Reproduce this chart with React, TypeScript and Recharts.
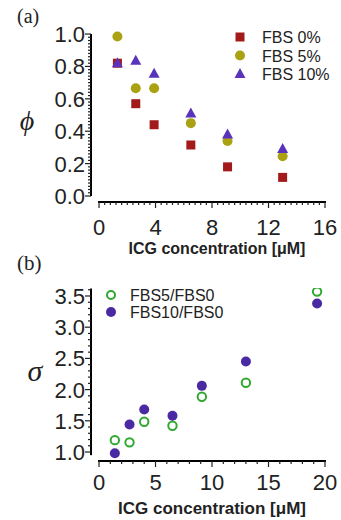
import React from "react";
import { ScatterChart, Scatter, XAxis, YAxis, Label } from "recharts";

// panel (a): phi vs ICG concentration
const concA = [1.3, 2.6, 3.9, 6.5, 9.1, 13.0];
const phiFbs0 = [0.82, 0.57, 0.44, 0.315, 0.18, 0.115];
const phiFbs5 = [0.985, 0.665, 0.665, 0.45, 0.34, 0.245];
const phiFbs10 = [0.82, 0.835, 0.755, 0.51, 0.38, 0.29];

// panel (b): sigma vs ICG concentration
const concB = [1.4, 2.7, 4.0, 6.5, 9.1, 13.0, 19.3];
const sigma5 = [1.19, 1.155, 1.485, 1.42, 1.886, 2.11, 3.57];
const sigma10 = [0.98, 1.44, 1.68, 1.58, 2.06, 2.45, 3.38];

const majorAX = [0, 4, 8, 12, 16];
const majorAY = [0, 0.2, 0.4, 0.6, 0.8, 1.0];
const majorBX = [0, 5, 10, 15, 20];
const majorBY = [1.0, 1.5, 2.0, 2.5, 3.0, 3.5];

const domAX: [number, number] = [-0.57, 16];
const domAY: [number, number] = [-0.037, 1.025];
const domBX: [number, number] = [-0.71, 20];
const domBY: [number, number] = [0.856, 3.628];

const RED = "#a31a1a";
const OLIVE = "#aaa212";
const PURPLE = "#5a33bb";
const GREEN = "#2fa82f";
const DEEP_PURPLE = "#4a2aa2";
const INK = "#222";
const SANS = "'Liberation Sans', Arial, sans-serif";
const SERIF = "'Liberation Serif', 'DejaVu Serif', serif";

// layout shared by the charts and the axis overlay
const W = 341;
const M_LEFT = 31;
const M_RIGHT = 16;
const Y_W = 60;
const X_H = 50;
const A_TOP = 0, A_H = 262, A_MT = 30, A_MB = 10;
const B_TOP = 250, B_H = 270, B_MT = 38, B_MB = 9;

const minor = (from: number, to: number, step: number) => {
  const out: number[] = [];
  const n = Math.round((to - from) / step);
  for (let i = 0; i <= n; i++) out.push(Math.round((from + i * step) * 1000) / 1000);
  return out;
};

const isMajor = (v: number, majors: number[]) => majors.some((m) => Math.abs(m - v) < 1e-6);

const ticksAX = minor(0, 16, 0.4);
const ticksAY = minor(0, 1, 0.02);
const ticksBX = minor(0, 20, 1);
const ticksBY = minor(1, 3.6, 0.1);

const xTick = (majors: number[], labelDy: number) => (props: any) => {
  const { x, y, payload } = props;
  if (!isMajor(payload.value, majors)) return <g />;
  return (
    <text x={x} y={y + labelDy} textAnchor="middle" fontSize={22} fontFamily={SANS} fill={INK}>
      {payload.value}
    </text>
  );
};

const yTick = (majors: number[]) => (props: any) => {
  const { x, y, payload } = props;
  if (!isMajor(payload.value, majors)) return <g />;
  return (
    <text x={x - 6} y={y + 8} textAnchor="end" fontSize={22} fontFamily={SANS} fill={INK}>
      {payload.value.toFixed(1)}
    </text>
  );
};

const textAt = (text: string, dx: number, dy: number, style: any) => (props: any) => {
  const vb = props.viewBox;
  return (
    <text x={vb.x + dx} y={vb.y + dy} fill={INK} {...style}>
      {text}
    </text>
  );
};

const titleStyle = { fontFamily: SANS, fontWeight: "bold", textAnchor: "middle" };
const greekStyle = { fontFamily: SERIF, fontStyle: "italic", textAnchor: "middle" };

const legendA = [
  { name: "FBS 0%", icon: (x: number, y: number) => <rect x={x - 4.5} y={y - 4.5} width={9} height={9} fill={RED} /> },
  { name: "FBS 5%", icon: (x: number, y: number) => <circle cx={x} cy={y} r={5} fill={OLIVE} /> },
  {
    name: "FBS 10%",
    icon: (x: number, y: number) => <polygon points={`${x},${y - 6} ${x + 5.5},${y + 4} ${x - 5.5},${y + 4}`} fill={PURPLE} />,
  },
];
const legendB = [
  { name: "FBS5/FBS0", icon: (x: number, y: number) => <circle cx={x} cy={y} r={4} fill="none" stroke={GREEN} strokeWidth={2} /> },
  { name: "FBS10/FBS0", icon: (x: number, y: number) => <circle cx={x} cy={y} r={5} fill={DEEP_PURPLE} /> },
];

const legendAt = (items: any[], dx: number, dy: number, rowH: number, textDx: number) => (props: any) => {
  const vb = props.viewBox;
  const x0 = vb.x + dx;
  return (
    <g>
      {items.map((it, i) => {
        const cy = vb.y + dy + i * rowH;
        return (
          <g key={it.name}>
            {it.icon(x0, cy)}
            <text x={x0 + textDx} y={cy + 6} fontSize={16} fontFamily={SANS} fill={INK}>
              {it.name}
            </text>
          </g>
        );
      })}
    </g>
  );
};

const Square = ({ cx, cy }: any) => <rect x={cx - 4.5} y={cy - 4.5} width={9} height={9} fill={RED} />;
const Dot = (fill: string, r: number) => ({ cx, cy }: any) => <circle cx={cx} cy={cy} r={r} fill={fill} />;
const Ring = ({ cx, cy }: any) => <circle cx={cx} cy={cy} r={4.2} fill="none" stroke={GREEN} strokeWidth={2} />;
const Tri = ({ cx, cy }: any) => (
  <polygon points={`${cx},${cy - 6} ${cx + 5.5},${cy + 4} ${cx - 5.5},${cy + 4}`} fill={PURPLE} />
);

const toPts = (xs: number[], ys: number[]) => xs.map((x, i) => ({ x, y: ys[i] }));

// offset axes with major and minor ticks, laid over the plot using the same layout and domains
const AxisFrame = ({ top, h, mt, mb, domX, domY, tx, ty, mx, my, yLo, yHi }: any) => {
  const left = M_LEFT + Y_W;
  const right = W - M_RIGHT;
  const pTop = top + mt;
  const pBot = top + h - mb - X_H;
  const sx = (v: number) => left + ((v - domX[0]) / (domX[1] - domX[0])) * (right - left);
  const sy = (v: number) => pTop + ((domY[1] - v) / (domY[1] - domY[0])) * (pBot - pTop);
  const x0 = sx(tx[0]);
  const x1 = sx(tx[tx.length - 1]);
  return (
    <g>
      <rect x={x0 - 1} y={pBot - 1} width={x1 - x0 + 2} height={2} fill="#000" />
      {tx.map((v: number) => (
        <rect key={"x" + v} x={sx(v) - 0.6} y={pBot} width={1.2} height={isMajor(v, mx) ? 6 : 3} fill={INK} />
      ))}
      <rect x={left - 1} y={sy(yHi)} width={2} height={sy(yLo) - sy(yHi)} fill="#000" />
      {ty.map((v: number) => {
        const len = isMajor(v, my) ? 6 : 3;
        return <rect key={"y" + v} x={left - len} y={sy(v) - 0.6} width={len} height={1.2} fill={INK} />;
      })}
    </g>
  );
};

export default function App() {
  return (
    <div style={{ position: "absolute", left: 0, top: 0, width: W, height: 520 }}>
      <div style={{ position: "absolute", left: 0, top: A_TOP }}>
        <ScatterChart width={W} height={A_H} margin={{ top: A_MT, right: M_RIGHT, bottom: A_MB, left: M_LEFT }}>
          <XAxis
            type="number"
            dataKey="x"
            domain={domAX}
            allowDataOverflow
            ticks={ticksAX}
            interval={0}
            axisLine={false}
            tickLine={false}
            tickSize={0}
            tickMargin={0}
            height={X_H}
            tick={xTick(majorAX, 33)}
          >
            <Label content={textAt("ICG concentration [μM]", 126, 52, { ...titleStyle, fontSize: 16 })} />
          </XAxis>
          <YAxis
            type="number"
            dataKey="y"
            domain={domAY}
            allowDataOverflow
            ticks={ticksAY}
            interval={0}
            axisLine={false}
            tickLine={false}
            tickSize={0}
            tickMargin={0}
            width={Y_W}
            tick={yTick(majorAY)}
          >
            <Label content={textAt("ϕ", -4, 100, { ...greekStyle, fontSize: 28 })} />
            <Label content={textAt("(a)", -14, -7, { fontFamily: SERIF, fontSize: 20 })} />
            <Label content={legendAt(legendA, 209, 7, 18.5, 22)} />
          </YAxis>
          <Scatter data={toPts(concA, phiFbs0)} shape={Square} isAnimationActive={false} />
          <Scatter data={toPts(concA, phiFbs5)} shape={Dot(OLIVE, 5)} isAnimationActive={false} />
          <Scatter data={toPts(concA, phiFbs10)} shape={Tri} isAnimationActive={false} />
        </ScatterChart>
      </div>
      <div style={{ position: "absolute", left: 0, top: B_TOP }}>
        <ScatterChart width={W} height={B_H} margin={{ top: B_MT, right: M_RIGHT, bottom: B_MB, left: M_LEFT }}>
          <XAxis
            type="number"
            dataKey="x"
            domain={domBX}
            allowDataOverflow
            ticks={ticksBX}
            interval={0}
            axisLine={false}
            tickLine={false}
            tickSize={0}
            tickMargin={0}
            height={X_H}
            tick={xTick(majorBX, 29)}
          >
            <Label content={textAt("ICG concentration [μM]", 121, 53, { ...titleStyle, fontSize: 17 })} />
          </XAxis>
          <YAxis
            type="number"
            dataKey="y"
            domain={domBY}
            allowDataOverflow
            ticks={ticksBY}
            interval={0}
            axisLine={false}
            tickLine={false}
            tickSize={0}
            tickMargin={0}
            width={Y_W}
            tick={yTick(majorBY)}
          >
            <Label content={textAt("σ", 4, 93, { ...greekStyle, fontSize: 30 })} />
            <Label content={textAt("(b)", -14, -18, { fontFamily: SERIF, fontSize: 21 })} />
            <Label content={legendAt(legendB, 80, 7, 17, 19)} />
          </YAxis>
          <Scatter data={toPts(concB, sigma5)} shape={Ring} isAnimationActive={false} />
          <Scatter data={toPts(concB, sigma10)} shape={Dot(DEEP_PURPLE, 5)} isAnimationActive={false} />
        </ScatterChart>
      </div>
      <svg width={W} height={520} style={{ position: "absolute", left: 0, top: 0, pointerEvents: "none" }}>
        <AxisFrame top={A_TOP} h={A_H} mt={A_MT} mb={A_MB} domX={domAX} domY={domAY}
          tx={ticksAX} ty={ticksAY} mx={majorAX} my={majorAY} yLo={0} yHi={1.0} />
        <AxisFrame top={B_TOP} h={B_H} mt={B_MT} mb={B_MB} domX={domBX} domY={domBY}
          tx={ticksBX} ty={ticksBY} mx={majorBX} my={majorBY} yLo={0.95} yHi={3.62} />
      </svg>
    </div>
  );
}
